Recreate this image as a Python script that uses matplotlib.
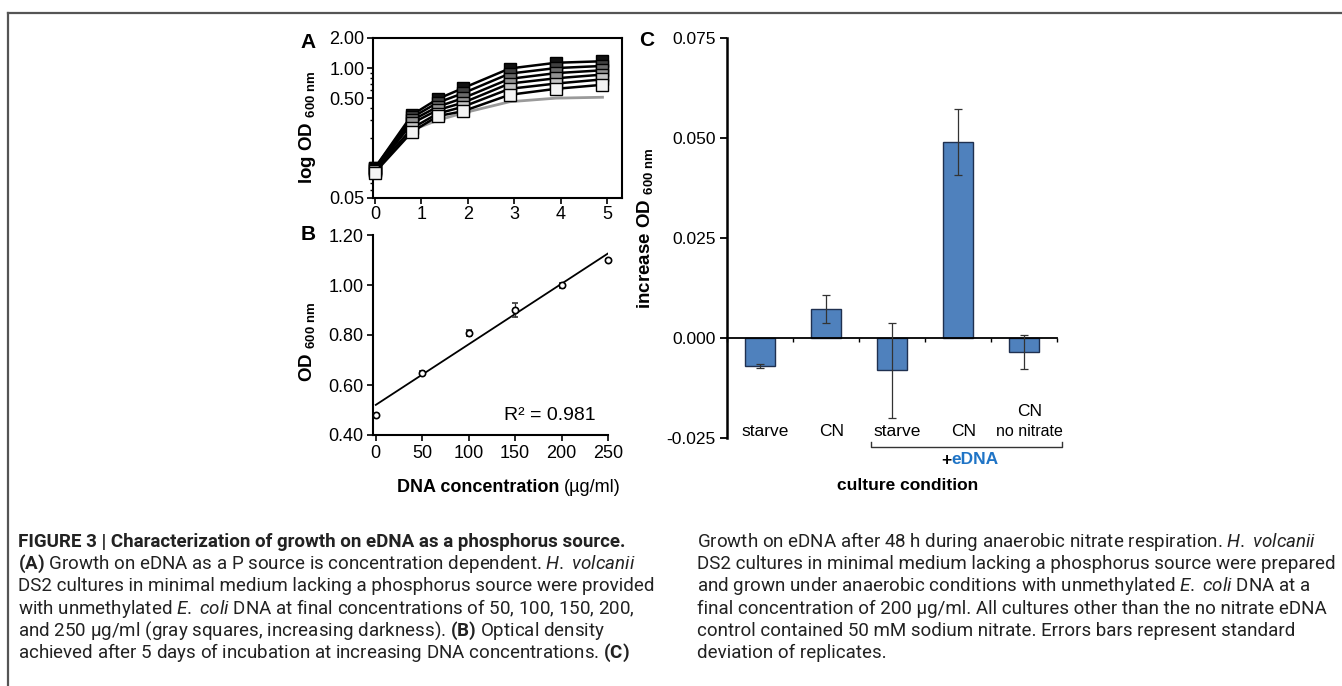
import numpy as np
import matplotlib
matplotlib.use('Agg')
import matplotlib.pyplot as plt
import matplotlib.transforms as mtransforms
from matplotlib import font_manager
from matplotlib.lines import Line2D
from matplotlib.ticker import LogLocator, NullFormatter, FormatStrFormatter

W, H, DPI = 1342, 686, 100

# ---------------- data ----------------
# Panel A: growth curves (days vs OD600, log axis)
days = [0, 0.8, 1.35, 1.9, 2.9, 3.9, 4.9]
od_250 = [0.100, 0.34, 0.49, 0.63, 0.99, 1.13, 1.17]
od_200 = [0.100, 0.32, 0.45, 0.56, 0.88, 1.00, 1.05]
od_150 = [0.098, 0.30, 0.41, 0.50, 0.78, 0.89, 0.95]
od_100 = [0.096, 0.28, 0.38, 0.45, 0.70, 0.79, 0.86]
od_50 = [0.094, 0.25, 0.35, 0.41, 0.62, 0.70, 0.77]
od_low = [0.090, 0.23, 0.33, 0.37, 0.54, 0.62, 0.68]
od_ctrl = [0.100, 0.24, 0.30, 0.355, 0.46, 0.50, 0.51]
a_series = [od_250, od_200, od_150, od_100, od_50, od_low]
a_colors = ['#111111', '#404040', '#6a6a6a', '#939393', '#c4c4c4', '#f4f4f4']
a_yticks = [0.05, 0.5, 1.0, 2.0]
a_xticks = [0, 1, 2, 3, 4, 5]

# Panel B: final OD vs DNA concentration
dna_conc = [0, 50, 100, 150, 200, 250]
od_final = [0.48, 0.65, 0.81, 0.90, 1.00, 1.10]
od_final_sd = [0.004, 0.006, 0.012, 0.028, 0.010, 0.004]
b_xticks = [0, 50, 100, 150, 200, 250]
b_yticks = [0.40, 0.60, 0.80, 1.00, 1.20]

# Panel C: increase in OD600 per culture condition
conditions = ['starve', 'CN', 'starve', 'CN', 'CN\nno nitrate']
increase = [-0.0070, 0.0073, -0.0081, 0.0490, -0.0035]
increase_sd = [0.0006, 0.0035, 0.0118, 0.0083, 0.0043]
edna_group = [2, 3, 4]
c_yticks = [-0.025, 0.000, 0.025, 0.050, 0.075]

# caption
cap_left = [
    "FIGURE 3 | Characterization of growth on eDNA as a phosphorus source.",
    r"$\mathbf{(A)}$ Growth on eDNA as a P source is concentration dependent. $\mathit{H.}$ $\mathit{volcanii}$",
    "DS2 cultures in minimal medium lacking a phosphorus source were provided",
    r"with unmethylated $\mathit{E.}$ $\mathit{coli}$ DNA at final concentrations of 50, 100, 150, 200,",
    r"and 250 µg/ml (gray squares, increasing darkness). $\mathbf{(B)}$ Optical density",
    r"achieved after 5 days of incubation at increasing DNA concentrations. $\mathbf{(C)}$",
]
cap_right = [
    r"Growth on eDNA after 48 h during anaerobic nitrate respiration. $\mathit{H.}$ $\mathit{volcanii}$",
    "DS2 cultures in minimal medium lacking a phosphorus source were prepared",
    r"and grown under anaerobic conditions with unmethylated $\mathit{E.}$ $\mathit{coli}$ DNA at a",
    "final concentration of 200 µg/ml. All cultures other than the no nitrate eDNA",
    "control contained 50 mM sodium nitrate. Errors bars represent standard",
    "deviation of replicates.",
]

# ---------------- fonts ----------------
avail = {f.name for f in font_manager.fontManager.ttflist}
cap_font = next((f for f in ['Roboto', 'Liberation Sans', 'DejaVu Sans'] if f in avail),
                'DejaVu Sans')
chart_font = 'Liberation Sans' if 'Liberation Sans' in avail else 'DejaVu Sans'

plt.rcParams['font.family'] = [chart_font, 'DejaVu Sans']
plt.rcParams['axes.unicode_minus'] = False
plt.rcParams['mathtext.fontset'] = 'custom'
plt.rcParams['mathtext.rm'] = cap_font
plt.rcParams['mathtext.it'] = cap_font + ':italic'
plt.rcParams['mathtext.bf'] = cap_font + ':bold'
plt.rcParams['mathtext.sf'] = chart_font + ':bold'

fig = plt.figure(figsize=(W / DPI, H / DPI), dpi=DPI)
fig.patch.set_facecolor('white')


def add_axes_px(l, t, r, b):
    return fig.add_axes([l / W, 1 - b / H, (r - l) / W, (b - t) / H])


def fx(x):
    return x / W


def fy(y):
    return 1 - y / H


# frame (top and left edges visible)
fig.add_artist(Line2D([fx(8), 1.0], [fy(13), fy(13)], color='#555555', lw=1.6,
                      transform=fig.transFigure))
fig.add_artist(Line2D([fx(8), fx(8)], [fy(13), 0.0], color='#555555', lw=1.6,
                      transform=fig.transFigure))

TICK_FS = 13
LAB_FS = 13.5

# ---------------- Panel A ----------------
axA = add_axes_px(373, 38, 622, 198)
axA.plot(days, od_ctrl, color='#9a9a9a', lw=2.0, zorder=2)
for vals, col in zip(a_series, a_colors):
    axA.plot(days, vals, color='black', lw=1.8, marker='s', ms=8.5,
             mfc=col, mec='black', mew=1.0, zorder=3, clip_on=False)
axA.set_yscale('log')
axA.set_ylim(0.05, 2.0)
axA.set_xlim(-0.04, 5.32)
axA.set_yticks(a_yticks)
axA.set_yticklabels([f'{v:.2f}' for v in a_yticks])
axA.yaxis.set_minor_locator(LogLocator(base=10, subs=[2, 3, 4, 5, 6, 7, 8, 9]))
axA.yaxis.set_minor_formatter(NullFormatter())
axA.set_xticks(a_xticks)
for sp in axA.spines.values():
    sp.set_linewidth(1.5)
axA.tick_params(which='major', length=4, width=1.2, labelsize=TICK_FS, pad=2)
axA.tick_params(which='minor', length=2.5, width=1.0)

fig.text(fx(308), fy(42), 'A', fontsize=15, fontweight='bold', ha='center', va='center')
fig.text(fx(308), fy(127), r'log OD $_{\mathsf{600\ nm}}$', fontsize=LAB_FS,
         fontweight='bold', rotation=90, ha='center', va='center')

# ---------------- Panel B ----------------
axB = add_axes_px(373, 235, 608, 435)
slope, intercept = np.polyfit(dna_conc, od_final, 1)
xfit = np.array([min(dna_conc), max(dna_conc)], dtype=float)
axB.plot(xfit, slope * xfit + intercept, color='black', lw=1.3, zorder=2)
axB.errorbar(dna_conc, od_final, yerr=od_final_sd, fmt='o', ms=4.5, mfc='white',
             mec='black', mew=1.2, ecolor='#333333', elinewidth=0.9, capsize=2.5,
             capthick=0.9, zorder=3, clip_on=False)
axB.set_xlim(-3, 250)
axB.set_ylim(0.4, 1.2)
axB.set_xticks(b_xticks)
axB.set_yticks(b_yticks)
axB.yaxis.set_major_formatter(FormatStrFormatter('%.2f'))
axB.spines['top'].set_visible(False)
axB.spines['right'].set_visible(False)
axB.spines['left'].set_linewidth(1.5)
axB.spines['bottom'].set_linewidth(1.5)
axB.tick_params(length=4, width=1.2, labelsize=TICK_FS, pad=3)
axB.text(0.753, 0.10, 'R² = 0.981', transform=axB.transAxes, fontsize=LAB_FS + 0.5,
         ha='center', va='center')

fig.text(fx(308), fy(235), 'B', fontsize=15, fontweight='bold', ha='center', va='center')
fig.text(fx(307), fy(342), r'OD $_{\mathsf{600\ nm}}$', fontsize=LAB_FS,
         fontweight='bold', rotation=90, ha='center', va='center')
tB1 = fig.text(fx(397), fy(488), 'DNA concentration', fontsize=LAB_FS - 0.5,
               fontweight='bold', ha='left', va='center')
axB.annotate('(µg/ml)', xy=(1, 0), xycoords=tB1, xytext=(3, 0),
             textcoords='offset points', ha='left', va='bottom', fontsize=LAB_FS - 0.5)

# ---------------- Panel C ----------------
axC = add_axes_px(727, 38, 1057, 438)
xc = np.arange(len(conditions))
axC.bar(xc, increase, width=0.45, color='#4F81BD', edgecolor='#1f3050', linewidth=1.0,
        zorder=2)
axC.errorbar(xc, increase, yerr=increase_sd, fmt='none', ecolor='#333333',
             elinewidth=0.9, capsize=3, capthick=0.9, zorder=3)
axC.set_xlim(-0.5, len(conditions) - 0.5)
axC.set_ylim(c_yticks[0], c_yticks[-1])
axC.set_yticks(c_yticks)
axC.yaxis.set_major_formatter(FormatStrFormatter('%.3f'))
axC.spines['top'].set_visible(False)
axC.spines['right'].set_visible(False)
axC.spines['left'].set_linewidth(1.8)
axC.spines['bottom'].set_position(('data', 0))
axC.spines['bottom'].set_linewidth(1.3)
axC.set_xticks(np.arange(len(conditions) + 1) - 0.5)
axC.set_xticklabels([])
axC.tick_params(axis='y', length=5, width=1.3, labelsize=TICK_FS - 0.5, pad=3)
axC.tick_params(axis='x', length=3, width=1.0, direction='out')

transC = mtransforms.blended_transform_factory(axC.transData, axC.transAxes)
lab_dx = 0.08
for i, lab in enumerate(conditions):
    parts = lab.split('\n')
    if len(parts) == 1:
        axC.text(i + lab_dx, 0.0175, parts[0], transform=transC, ha='center',
                 va='center', fontsize=TICK_FS - 0.5)
    else:
        axC.text(i + lab_dx, 0.0675, parts[0], transform=transC, ha='center',
                 va='center', fontsize=TICK_FS - 0.5)
        axC.text(i + lab_dx, 0.015, parts[1], transform=transC, ha='center',
                 va='center', fontsize=TICK_FS - 1.5)

bx0 = min(edna_group) - 0.32
bx1 = max(edna_group) + 0.57
axC.add_line(Line2D([bx0, bx0, bx1, bx1], [-0.009, -0.022, -0.022, -0.009],
                    transform=transC, color='#333333', lw=1.0, clip_on=False))
bmid = (bx0 + bx1) / 2 + 0.07
tplus = axC.annotate('+', xy=(bmid, -0.055), xycoords=transC, xytext=(-14, 0),
                     textcoords='offset points', ha='right', va='center',
                     fontsize=TICK_FS - 0.5, fontweight='bold', color='black')
axC.annotate('eDNA', xy=(1, 0), xycoords=tplus, ha='left', va='bottom',
             fontsize=TICK_FS - 0.5, fontweight='bold', color='#1f74c6')
axC.text(2.24, -0.1175, 'culture condition', transform=transC, ha='center', va='center',
         fontsize=TICK_FS - 0.5, fontweight='bold')

fig.text(fx(647), fy(40), 'C', fontsize=15, fontweight='bold', ha='center', va='center')
fig.text(fx(645), fy(228), r'increase OD $_{\mathsf{600\ nm}}$', fontsize=LAB_FS,
         fontweight='bold', rotation=90, ha='center', va='center')

# ---------------- Caption ----------------
base_fs = 12.0
cap_texts = []
line_y = [547 + 22.2 * k for k in range(6)]
for k, s in enumerate(cap_left):
    t = fig.text(fx(18), fy(line_y[k]), s, fontsize=base_fs, family=cap_font,
                 fontweight='bold' if k == 0 else 'normal', ha='left', va='baseline',
                 color='#222222')
    cap_texts.append(t)
for k, s in enumerate(cap_right):
    t = fig.text(fx(697), fy(line_y[k]), s, fontsize=base_fs, family=cap_font,
                 fontweight='normal', ha='left', va='baseline', color='#222222')
    cap_texts.append(t)

renderer = fig.canvas.get_renderer()
ref_w = max(cap_texts[2].get_window_extent(renderer).width,
            cap_texts[7].get_window_extent(renderer).width)
scale = 636.0 / ref_w
for t in cap_texts:
    t.set_fontsize(base_fs * scale)

fig.savefig('out.png', dpi=DPI)
